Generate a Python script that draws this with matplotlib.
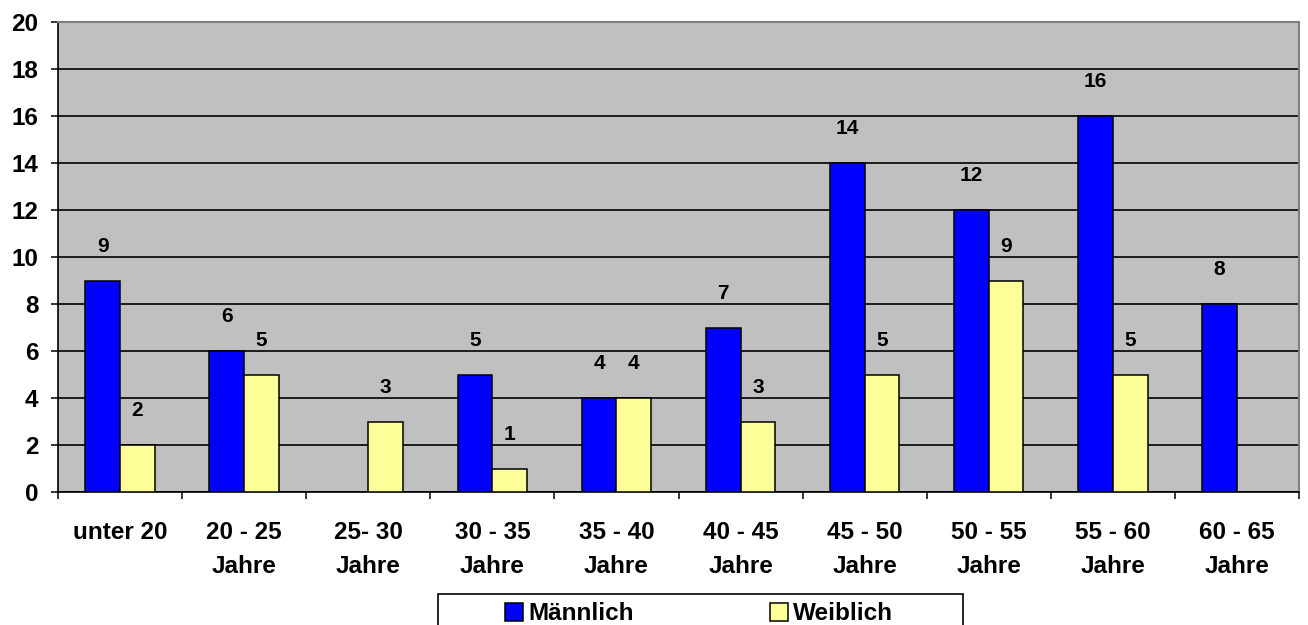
import matplotlib
matplotlib.use("Agg")
import matplotlib.pyplot as plt
from matplotlib.patches import Rectangle
import numpy as np

categories = ["unter 20", "20 - 25\nJahre", "25- 30\nJahre", "30 - 35\nJahre",
              "35 - 40\nJahre", "40 - 45\nJahre", "45 - 50\nJahre",
              "50 - 55\nJahre", "55 - 60\nJahre", "60 - 65\nJahre"]
maennlich = [9, 6, 0, 5, 4, 7, 14, 12, 16, 8]
weiblich = [2, 5, 3, 1, 4, 3, 5, 9, 5, 0]
series_names = ["Männlich", "Weiblich"]
y_ticks = [0, 2, 4, 6, 8, 10, 12, 14, 16, 18, 20]

plt.rcParams["font.family"] = ["Liberation Sans", "DejaVu Sans"]
plt.rcParams["font.weight"] = "bold"

fig = plt.figure(figsize=(13.08, 6.25), dpi=100)
ax = fig.add_axes([58 / 1308, 1 - 492 / 625, 1241 / 1308, 470 / 625])
ax.set_facecolor("#C0C0C0")

x = np.arange(len(categories))
w = 0.28
bm = ax.bar(x - w / 2, maennlich, w, color="#0000FF", edgecolor="black",
            linewidth=1.1, zorder=3, label=series_names[0])
bw = ax.bar(x + w / 2, weiblich, w, color="#FFFF99", edgecolor="black",
            linewidth=1.1, zorder=3, label=series_names[1])

# data labels sit a bit above the bar tops, like the Excel original
for xs, vals in ((x - w / 2, maennlich), (x + w / 2, weiblich)):
    for xi, v in zip(xs, vals):
        if v:
            ax.text(xi, v + 1.45, f"{v}", ha="center", va="center",
                    fontsize=15, fontweight="bold", zorder=4)

ax.set_xlim(-0.5, len(categories) - 0.5)
ax.set_ylim(0, 20)
ax.set_yticks(y_ticks)
ax.yaxis.grid(True, color="black", linewidth=1.2, zorder=1)
ax.set_axisbelow(True)

ax.set_xticks(x)
ax.set_xticklabels(categories, fontsize=17.5, fontweight="bold", linespacing=1.6)
ax.set_xticks(np.arange(len(categories) + 1) - 0.5, minor=True)
ax.tick_params(axis="x", which="major", length=0, pad=21)
ax.tick_params(axis="x", which="minor", length=5, width=1.1, direction="out")
ax.tick_params(axis="y", length=5, width=1.1, pad=9, labelsize=17.5)
for lab in ax.get_yticklabels():
    lab.set_fontweight("bold")

for s in ("top", "right"):
    ax.spines[s].set_color("#808080")
    ax.spines[s].set_linewidth(1.5)
for s in ("left", "bottom"):
    ax.spines[s].set_color("black")
    ax.spines[s].set_linewidth(1.2)

# legend box, bottom edge runs off the picture as in the original
fig.patches.append(Rectangle((438 / 1308, 1 - 660 / 625), 525 / 1308, 66.4 / 625,
                             transform=fig.transFigure, fill=False,
                             edgecolor="black", linewidth=1.2))
fig.legend(handles=[bm, bw], labels=series_names, loc="center left",
           bbox_to_anchor=(505 / 1308, 1 - 614 / 625), ncol=2, frameon=False,
           borderpad=0, borderaxespad=0, handlelength=0.75, handleheight=0.75,
           handletextpad=0.2, columnspacing=5.6,
           prop={"size": 17.5, "weight": "bold"})

fig.savefig("out.png", dpi=100, facecolor="white")
